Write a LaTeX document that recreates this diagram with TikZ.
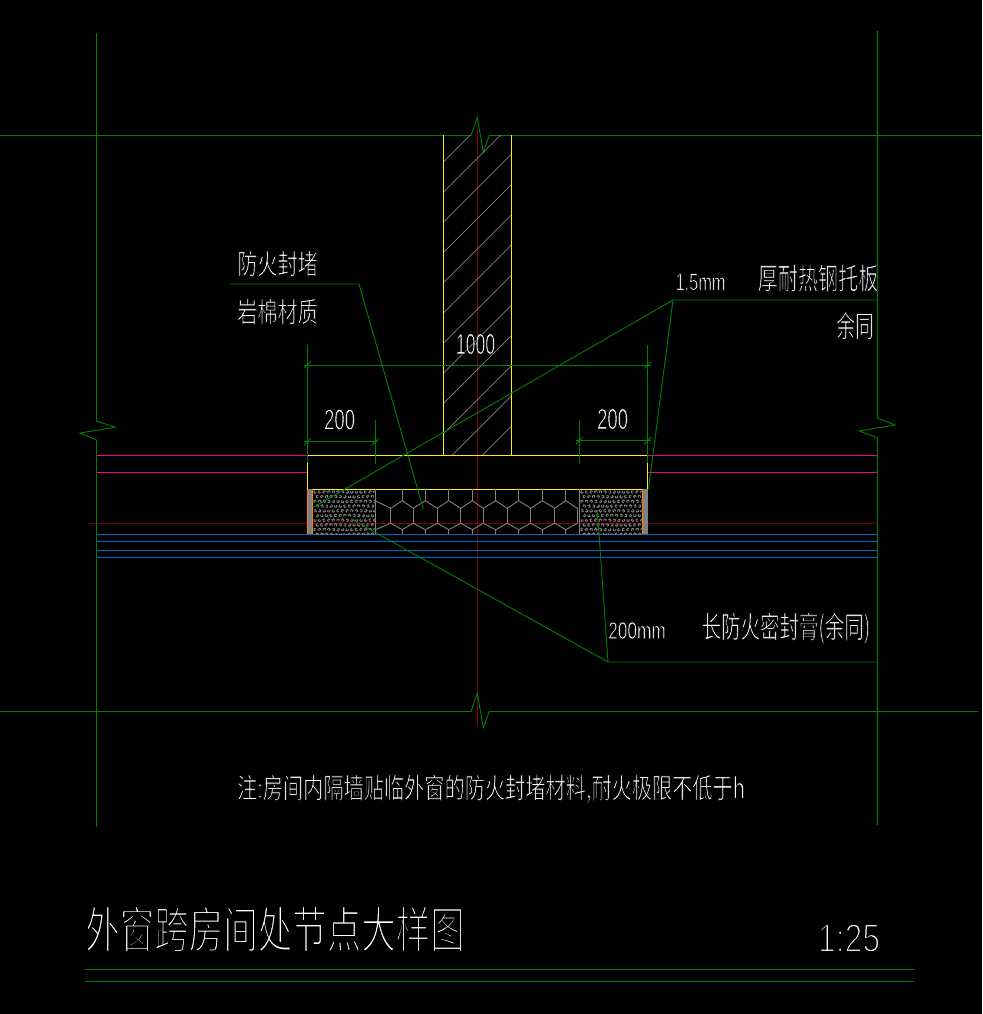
\documentclass[tikz,border=0pt]{standalone}
\usepackage{fontspec}
\setmainfont{Liberation Sans}
\newfontfamily\cjk{Noto Sans CJK SC}
\definecolor{cadgreen}{RGB}{0,128,0}
\definecolor{cadred}{RGB}{128,0,0}
\definecolor{cadblue}{RGB}{0,102,204}
\definecolor{cadgrey}{RGB}{128,128,128}
\definecolor{cadorange}{RGB}{255,128,0}
\tikzset{
  frame/.style={cadgreen,line width=0.9pt},
  leader/.style={cadgreen,line width=0.9pt},
  wall/.style={yellow,line width=1.1pt},
  hatchline/.style={cadgrey,line width=0.7pt},
  hexline/.style={cadgrey,line width=0.9pt},
  blueline/.style={cadblue,line width=1pt},
  cadtext/.style={white,inner sep=0pt,outer sep=0pt,anchor=center},
}
\newcommand{\thinon}[1]{\special{pdf:code q 2 Tr #1 w 0 0 0 RG}}
\newcommand{\thinoff}{\special{pdf:code Q}}
\newcommand{\cn}[4][0.8]{\scalebox{#3}[1]{\thinon{#1}\fontsize{#2}{#2}\selectfont\cjk #4\thinoff}}
\newcommand{\lt}[4][0.7]{\scalebox{#3}[1]{\thinon{#1}\fontsize{#2}{#2}\selectfont #4\thinoff}}
\begin{document}
\begin{tikzpicture}[x=1pt,y=-1pt]
\useasboundingbox (0,0) rectangle (982,1014);
\fill[black] (0,0) rectangle (982,1014);
% centre lines
\draw[cadred,line width=0.8pt] (477.3,128) -- (477.3,726);
\draw[cadred,line width=0.8pt] (89,523.3) -- (877,523.3);
% grids
\draw[frame] (96.5,33) -- (96.5,421) -- (115,427.3) -- (80,433) -- (96.5,440) -- (96.5,827);
\draw[frame] (877.3,31) -- (877.3,418) -- (895,425) -- (859.3,431) -- (877.3,437.7) -- (877.3,825);
\draw[frame] (0,135.5) -- (471,135.5) -- (477.3,117.3) -- (483.3,152.3) -- (489.3,135.5) -- (982,135.5);
\draw[frame] (0,711.5) -- (471,711.5) -- (477.3,693) -- (483.3,728) -- (489.3,711.5) -- (978,711.5);
% hatch
\begin{scope}
\clip (443.3,135) rectangle (511.3,455.3);
\foreach \n in {0,...,11}{
  \pgfmathsetmacro{\c}{605.3+30.2*\n}
  \draw[hatchline] (\c-135,135) -- (\c-455.3,455.3);
}
\end{scope}
% wall
\draw[wall] (443.3,135) -- (443.3,455.3) (511.3,135) -- (511.3,455.3);
% magenta / blue
\draw[magenta,line width=0.7pt] (97,455.3) -- (307,455.3) (648,455.3) -- (877,455.3);
\draw[magenta,line width=1.1pt] (97,472.3) -- (307,472.3) (648,472.3) -- (877,472.3);
\foreach \y/\w in {534.3/1.2,541.3/0.9,550.3/1.2,557.3/0.9}
  \draw[blueline,line width=\w pt] (97,\y) -- (877,\y);
% window frame
\draw[wall] (307.3,455.3) -- (647.7,455.3);
\draw[wall] (307.3,463) -- (307.3,489.3) -- (647.7,489.3) -- (647.7,463);
% side strips
\fill[cadgrey] (307.3,489.3) rectangle (312.7,534);
\fill[cadgrey] (642,489.3) rectangle (647.7,534);
\draw[cadorange,line width=1pt] (307.3,489.3) -- (307.3,534) (312.7,489.3) -- (312.7,534) (642,489.3) -- (642,534);
% sealant blocks
\foreach \xa/\xb in {313/375,580/642}{
  \begin{scope}
  \clip (\xa,489.8) rectangle (\xb,534);
  \foreach \i in {0,...,14}{
    \foreach \j in {0,...,9}{
      \pgfmathsetmacro{\px}{\xa+2+4.6*\i+mod(\j,2)*2.3}
      \pgfmathsetmacro{\py}{492+4.7*\j}
      \pgfmathsetmacro{\st}{mod(\i*37+\j*53,360)}
      \draw[cadgrey,line width=0.9pt] (\px,\py) ++(\st:1.4) arc[start angle=\st,delta angle=270,radius=1.4];
    }
  }
  \end{scope}
}
\draw[cadgrey,line width=0.9pt] (375.3,489.3) -- (375.3,534) (579.3,489.3) -- (579.3,534);
% hexagons
\begin{scope}
\clip (375.3,489.3) rectangle (579.3,534);
\draw[hexline] (375.3,500.7) -- (390.7,508.3) -- (402.3,500.7) -- (413.3,508.3) -- (425.3,500.7) -- (437.3,508.3) -- (448.7,500.7) -- (460.7,508.3) -- (472.3,500.7) -- (483.3,508.3) -- (495.7,500.7) -- (507.3,508.3) -- (518.7,500.7) -- (530.7,508.3) -- (542.3,500.7) -- (554.7,508.3) -- (565.7,500.7) -- (577.3,508.3);
\draw[hexline] (375.3,529.7) -- (390.7,523.3) -- (402.3,529.7) -- (413.3,523.3) -- (425.3,529.7) -- (437.3,523.3) -- (448.7,529.7) -- (460.7,523.3) -- (472.3,529.7) -- (483.3,523.3) -- (495.7,529.7) -- (507.3,523.3) -- (518.7,529.7) -- (530.7,523.3) -- (542.3,529.7) -- (554.7,523.3) -- (565.7,529.7) -- (577.3,523.3);
\foreach \x in {390.7,413.3,437.3,460.7,483.3,507.3,530.7,554.7,577.3}
  \draw[hexline] (\x,508.3) -- (\x,523.3);
\foreach \x in {402.3,425.3,448.7,472.3,495.7,518.7,542.3,565.7}
  \draw[hexline] (\x,489.3) -- (\x,500.7) (\x,529.7) -- (\x,534);
\end{scope}
% dimensions
\draw[leader] (307.3,345) -- (307.3,463);
\draw[leader] (647.7,345) -- (647.7,463);
\draw[leader] (304,365) -- (651,365);
\draw[leader] (304,441.7) -- (378,441.7);
\draw[leader] (375.3,420) -- (375.3,464);
\draw[leader] (576,440.7) -- (651,440.7);
\draw[leader] (579.3,420) -- (579.3,463);
\foreach \x/\y in {307.3/365,647.7/365,307.3/441.7,375.3/441.7,579.3/440.7,647.7/440.7}
  \draw[leader] (\x-3.5,\y+3.5) -- (\x+3.5,\y-3.5);
% leaders
\coordinate (la) at (359,284);
\coordinate (lb) at (673,300);
\coordinate (lc) at (608,662);
\draw[leader] (229,284) -- (la) -- (423.3,509.3);
\draw[leader] (877,300) -- (lb) -- (313.3,507.3);
\draw[leader] (lb) -- (648.5,489);
\draw[leader] (877,662) -- (lc) -- (351.7,519.3);
\draw[leader] (lc) -- (597.3,510);
% title rules
\draw[cadgreen,line width=0.9pt] (85,969.5) -- (914,969.5) (85,981.5) -- (914,981.5);
% texts
\node[cadtext] (t1) at (277.5,263.5) {\cn{28}{0.72}{防火封堵}};
\node[cadtext] (t2) at (277.5,311.5) {\cn{28}{0.72}{岩棉材质}};
\node[cadtext] (t3) at (700.5,282) {\lt[0.6]{24}{0.68}{1.5mm}};
\node[cadtext] (t4) at (818,278) {\cn{30}{0.67}{厚耐热钢托板}};
\node[cadtext] (t5) at (855,325.5) {\cn{30}{0.62}{余同}};
\node[cadtext] (t6) at (475.5,344) {\lt{29}{0.61}{1000}};
\node[cadtext] (t7) at (339.5,419.5) {\lt{29}{0.64}{200}};
\node[cadtext] (t8) at (612.5,419) {\lt{29}{0.64}{200}};
\node[cadtext] (t9) at (637,630.5) {\lt[0.6]{24}{0.72}{200mm}};
\node[cadtext] (t10) at (786,628) {\cn{30}{0.648}{长防火密封膏(余同)}};
\node[cadtext] (t11) at (491,789) {\cn{28}{0.721}{注:房间内隔墙贴临外窗的防火封堵材料,耐火极限不低于h}};
\node[cadtext] (t12) at (275,929) {\cn[2.1]{50}{0.69}{外窗跨房间处节点大样图}};
\node[cadtext] (t13) at (849,938) {\lt[1.8]{40}{0.8}{1:25}};
\end{tikzpicture}
\end{document}
